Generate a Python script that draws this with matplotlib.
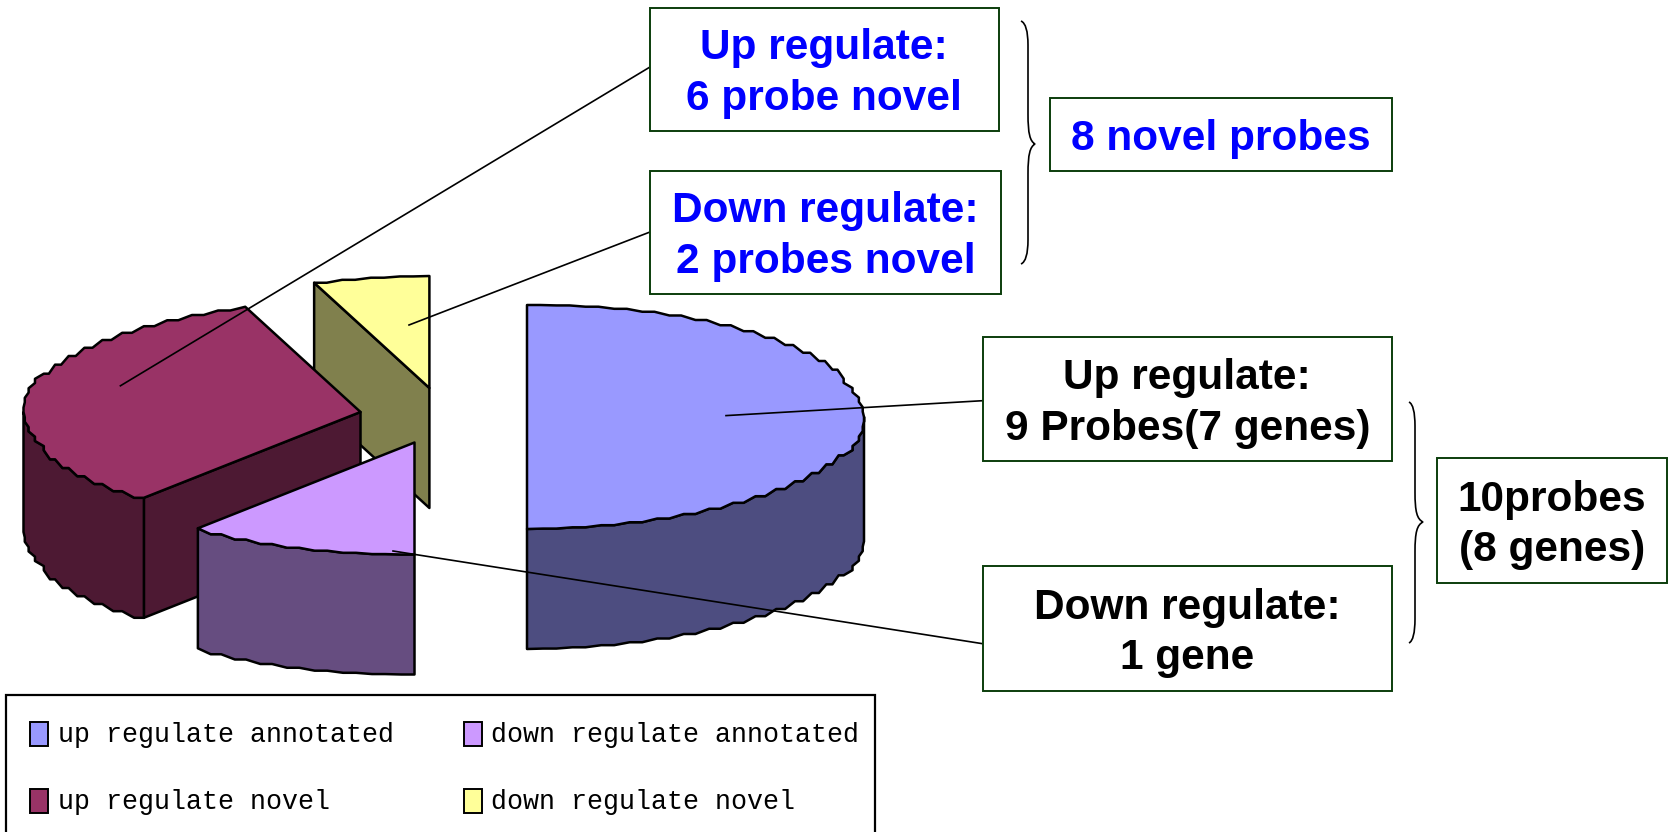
import numpy as np
import matplotlib
matplotlib.use("Agg")
import matplotlib.pyplot as plt
from matplotlib.patches import Polygon, Rectangle, PathPatch
from matplotlib.path import Path

# ---- data ----
slice_names = ["up regulate annotated", "down regulate annotated", "up regulate novel", "down regulate novel"]
slice_values = [9, 2, 6, 1]
box_texts = ["Up regulate:\n6 probe novel", "Down regulate:\n2 probes novel", "8 novel probes",
             "Up regulate:\n9 Probes(7 genes)", "Down regulate:\n1 gene", "10probes\n(8 genes)"]
box_colors = ["#0000FF", "#0000FF", "#0000FF", "black", "black", "black"]

# ---- style / layout (pixels) ----
W, H = 1671, 832
top_colors = ["#9999FF", "#CC99FF", "#993366", "#FFFF99"]
side_colors = ["#4D4D80", "#664D80", "#4D1933", "#80804D"]
centers = [(527, 417), (414.5, 442.5), (360.5, 412), (429.4, 388)]
A, B, DEPTH = 337, 112, 120
draw_order = [3, 2, 1, 0]
boxes = [(650, 7.5, 998.6, 131), (650, 170.5, 1000.7, 294), (1050, 98, 1392, 170.5),
         (982.6, 337, 1392, 461), (982.6, 566, 1392, 690.6), (1436.6, 458, 1667, 583)]
leaders = [((120.4, 385.8), (650, 67)), ((409, 325), (650, 232)),
           ((726, 415.6), (982.6, 400.7)), ((393, 551), (982.6, 643.7))]
braces = [(1021, 21, 1028, 1035, 144, 264), (1409, 402, 1415, 1423, 522, 643)]

fig = plt.figure(figsize=(W / 100, H / 100), dpi=100, facecolor="white")
ax = fig.add_axes([0, 0, 1, 1])
ax.set_xlim(0, W)
ax.set_ylim(H, 0)
ax.axis("off")

STEP_DEG = 5.0


def arc(cx, cy, t0, t1):
    """Rim points with short flat runs between sloped ones, like the original's scalloped edge."""
    n = max(2, int(round((t1 - t0) / STEP_DEG)) + 1)
    th = np.radians(np.linspace(t0, t1, n))
    x = cx + A * np.sin(th)
    y = cy - B * np.cos(th)
    pts = [(x[0], y[0])]
    for k in range(1, n):
        dx, dy = x[k] - x[k - 1], y[k] - y[k - 1]
        if abs(dx) >= abs(dy):
            pts.append((x[k - 1] + 0.45 * dx, y[k - 1]))
        else:
            pts.append((x[k - 1], y[k - 1] + 0.45 * dy))
        pts.append((x[k], y[k]))
    return pts


def rim(cx, cy, deg):
    t = np.radians(deg)
    return (cx + A * np.sin(t), cy - B * np.cos(t))


total = sum(slice_values)
edges = np.cumsum([0] + slice_values) * 360.0 / total
EDGE = dict(edgecolor="black", linewidth=1.8, joinstyle="round")

for z, i in enumerate(draw_order):
    cx, cy = centers[i]
    t0, t1 = edges[i], edges[i + 1]
    zb = 2 + z * 2
    # radial faces: only those turned towards the viewer
    for t, visible in ((t0, np.sin(np.radians(t0)) < -1e-6), (t1, np.sin(np.radians(t1)) > 1e-6)):
        if visible:
            p = rim(cx, cy, t)
            ax.add_patch(Polygon([(cx, cy), p, (p[0], p[1] + DEPTH), (cx, cy + DEPTH)],
                                 facecolor=side_colors[i], zorder=zb, **EDGE))
    # outer wall: only the front half of the rim is visible
    a0, a1 = max(t0, 90), min(t1, 270)
    if a1 > a0:
        up = arc(cx, cy, a0, a1)
        down = [(x, y + DEPTH) for x, y in up[::-1]]
        ax.add_patch(Polygon(up + down, facecolor=side_colors[i], zorder=zb, **EDGE))
    # top face
    top = [(cx, cy)] + arc(cx, cy, t0, t1)
    ax.add_patch(Polygon(top, facecolor=top_colors[i], zorder=zb + 1, **EDGE))

for a, b in leaders:
    ax.plot([a[0], b[0]], [a[1], b[1]], color="black", lw=1.2, zorder=20)

for (x0, y0, x1, y1), s, c in zip(boxes, box_texts, box_colors):
    ax.add_patch(Rectangle((x0, y0), x1 - x0, y1 - y0, facecolor="white", edgecolor="#0B3D0B",
                           linewidth=1.4, zorder=21))
    ax.text((x0 + x1) / 2, (y0 + y1) / 2 + 4.5, s, ha="center", va="center", color=c, fontsize=30.5,
            fontweight="bold", family="Liberation Sans", linespacing=1.34, zorder=22)

for x0, y0, xs, xt, ym, y1 in braces:
    verts = [(x0, y0), (xs, y0 + 3), (xs, y0 + 24), (xs, y0 + 40),
             (xs, ym - 30), (xs, ym - 10), (xs + 2, ym - 3), (xt, ym),
             (xs + 2, ym + 3), (xs, ym + 10), (xs, ym + 30),
             (xs, y1 - 40), (xs, y1 - 24), (xs, y1 - 3), (x0, y1)]
    codes = [Path.MOVETO, Path.CURVE3, Path.CURVE3, Path.LINETO, Path.LINETO,
             Path.CURVE4, Path.CURVE4, Path.CURVE4, Path.CURVE4, Path.CURVE4, Path.CURVE4,
             Path.LINETO, Path.LINETO, Path.CURVE3, Path.CURVE3]
    ax.add_patch(PathPatch(Path(verts, codes), facecolor="none", edgecolor="black", lw=1.2, zorder=20))

# legend
ax.add_patch(Rectangle((6.4, 695), 868.6, 160, facecolor="white", edgecolor="black", linewidth=1.6, zorder=21))
leg_x = [(30, 57.5), (464, 491)]
leg_y = [734, 801]
for i, name in enumerate(slice_names):
    sx, tx = leg_x[i % 2]
    ty = leg_y[i // 2]
    ax.add_patch(Rectangle((sx, ty - 12), 18, 24, facecolor=top_colors[i], edgecolor="black",
                           linewidth=1.4, zorder=22))
    ax.text(tx, ty + 1, name, ha="left", va="center", family="Liberation Mono", fontsize=19.2,
            color="black", zorder=22)

fig.savefig("out.png", dpi=100)
